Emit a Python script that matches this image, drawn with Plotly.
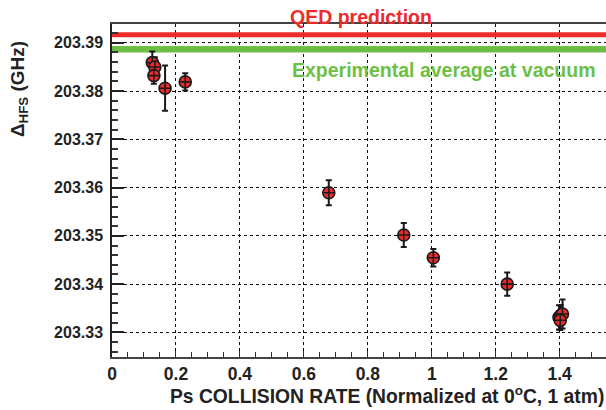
import plotly.graph_objects as go

# Data
rate = [0.126, 0.134, 0.131, 0.166, 0.229, 0.678, 0.9125, 1.005, 1.236, 1.398, 1.404, 1.409, 1.402]
hfs = [203.3859, 203.3850, 203.3832, 203.3806, 203.3819, 203.35894, 203.35019, 203.34546, 203.3400,
       203.3331, 203.3336, 203.3338, 203.3325]
err = [0.0023, 0.0020, 0.0017, 0.0047, 0.0018, 0.0026, 0.0025, 0.0018, 0.0024, 0.0025, 0.0020, 0.0030, 0.0020]
qed_value = 203.39169
exp_avg = 203.38865
x_range = [0, 1.545]
y_range = [203.3249, 203.3939]
x_ticks = [0, 0.2, 0.4, 0.6, 0.8, 1, 1.2, 1.4]
x_ticklabels = ["0", "0.2", "0.4", "0.6", "0.8", "1", "1.2", "1.4"]
y_ticks = [203.33, 203.34, 203.35, 203.36, 203.37, 203.38, 203.39]
y_ticklabels = ["203.33", "203.34", "203.35", "203.36", "203.37", "203.38", "203.39"]

RED = "#ee2b2b"
GREEN = "#6cbf44"
FONT = "Liberation Sans"

fig = go.Figure()
fig.add_trace(go.Scatter(x=x_range, y=[qed_value, qed_value], mode="lines",
                         line=dict(color=RED, width=5), hoverinfo="skip"))
fig.add_trace(go.Scatter(x=x_range, y=[exp_avg, exp_avg], mode="lines",
                         line=dict(color=GREEN, width=6.5), hoverinfo="skip"))
fig.add_trace(go.Scatter(
    x=rate, y=hfs, mode="markers",
    marker=dict(symbol="circle-cross", size=12, color=RED, line=dict(color="#1a1a1a", width=1.6)),
    error_y=dict(type="data", array=err, color="#1a1a1a", thickness=2, width=3),
))

fig.update_layout(
    width=606, height=410,
    margin=dict(l=112, r=0, t=24, b=53, autoexpand=False),
    paper_bgcolor="white", plot_bgcolor="white",
    showlegend=False,
    font=dict(family=FONT, size=16, color="#222"),
    xaxis=dict(range=x_range, tickvals=x_ticks, ticktext=x_ticklabels, automargin=False,
               ticks="inside", ticklen=6, tickwidth=1, tickcolor="#333",
               minor=dict(dtick=0.05, tick0=0, ticks="inside", ticklen=5, tickcolor="#333", showgrid=False),
               showline=True, linecolor="#444", linewidth=1.5, mirror=True,
               showgrid=True, gridcolor="#111", griddash="dot", gridwidth=1,
               zeroline=False, tickfont=dict(family=FONT, size=17.5, color="#222", weight="bold")),
    yaxis=dict(range=y_range, tickvals=y_ticks, ticktext=y_ticklabels, automargin=False,
               ticks="inside", ticklen=12, tickwidth=1.5, tickcolor="#222",
               minor=dict(dtick=0.002, tick0=203.33, ticks="inside", ticklen=6, tickcolor="#333", showgrid=False),
               showline=True, linecolor="#222", linewidth=1.5, mirror=True,
               showgrid=True, gridcolor="#111", griddash="dot", gridwidth=1,
               zeroline=False, tickfont=dict(family=FONT, size=16, color="#222", weight="bold"),
               ticklabelstandoff=4),
)

fig.add_annotation(text="<b>QED prediction</b>", x=0.78, y=1.021, xref="x", yref="paper",
                   showarrow=False, font=dict(family=FONT, size=19.5, color=RED), xanchor="center", yanchor="middle")
fig.add_annotation(text="<b>Experimental average at vacuum</b>", x=0.556, y=203.3843, xref="x", yref="y",
                   showarrow=False, font=dict(family=FONT, size=19.5, color=GREEN), xanchor="left", yanchor="middle")
fig.add_annotation(text="<b>Ps COLLISION RATE (Normalized at 0<sup>o</sup>C, 1 atm)</b>",
                   x=1.0, y=-0.114, xref="paper", yref="paper", showarrow=False,
                   font=dict(family=FONT, size=19.3, color="#222"), xanchor="right", yanchor="middle")
fig.add_annotation(text="<b>Δ<sub>HFS</sub> (GHz)</b>", x=-0.188, y=0.955, xref="paper", yref="paper",
                   showarrow=False, textangle=-90,
                   font=dict(family=FONT, size=19, color="#222"), xanchor="center", yanchor="top")

fig.write_html("out.html", config={"displayModeBar": False},
               post_script="document.body.style.margin='0';document.body.style.overflow='hidden';")
